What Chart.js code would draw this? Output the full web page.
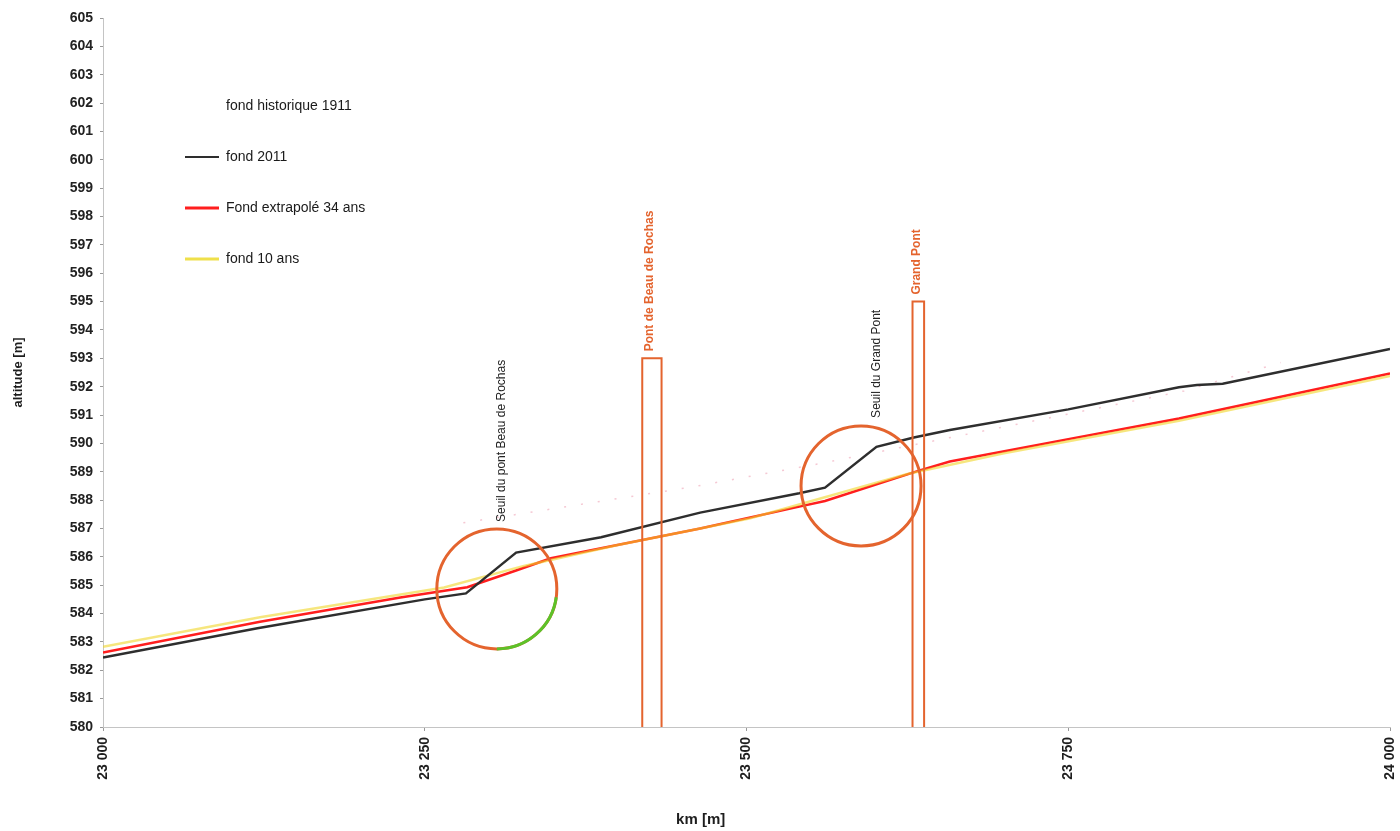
<!DOCTYPE html>
<html>
<head>
<meta charset="utf-8">
<script src="https://cdn.jsdelivr.net/npm/chart.js@4.4.1/dist/chart.umd.min.js"></script>
<style>
  html, body { margin: 0; padding: 0; background: #ffffff; }
  #wrap { width: 1400px; height: 831px; }
</style>
</head>
<body>
<div id="wrap"><canvas id="profil" width="1400" height="831"></canvas></div>
<script>
// Profil en long du fond — altitude [m] selon le km [m]

// Axes
const kmMin = 23000, kmMax = 24000, kmStep = 250;
const altMin = 580, altMax = 605, altStep = 1;

// fond historique 1911 (points épars)
const km1911   = [23280, 23457, 23555, 23840, 23915];
const fond1911 = [587.2, 588.46, 589.27, 591.85, 592.85];

// fond 2011
const km2011   = [23000, 23120, 23250, 23282, 23321, 23387, 23464, 23541, 23561, 23601, 23630, 23658, 23750, 23836, 23850, 23870, 24000];
const fond2011 = [582.45, 583.48, 584.5, 584.71, 586.15, 586.69, 587.56, 588.24, 588.44, 589.88, 590.21, 590.47, 591.2, 591.98, 592.06, 592.1, 593.33];

// Fond extrapolé 34 ans
const km34   = [23000, 23122, 23231, 23283, 23321, 23348, 23387, 23464, 23541, 23561, 23634, 23658, 23750, 23836, 24000];
const fond34 = [582.63, 583.71, 584.57, 584.93, 585.52, 585.95, 586.30, 587.0, 587.77, 587.97, 589.04, 589.36, 590.15, 590.88, 592.47];

// fond 10 ans
const km10   = [23000, 23122, 23265, 23327, 23400, 23464, 23503, 23625, 23700, 23836, 24000];
const fond10 = [582.83, 583.87, 584.92, 585.68, 586.42, 587.0, 587.36, 588.92, 589.65, 590.8, 592.38];

// Ponts (culées gauche / droite, cote du tablier)
const pontNoms     = ['Pont de Beau de Rochas', 'Grand Pont'];
const pontKmGauche = [23419, 23629];
const pontKmDroite = [23434, 23638];
const pontCote     = [593, 595];

// Seuils (cercles) et leurs libellés
const seuilNoms     = ['Seuil du pont Beau de Rochas', 'Seuil du Grand Pont'];
const seuilKm       = [23306, 23589];
const seuilAlt      = [584.87, 588.5];
const seuilLabelKm  = [23310, 23601];
const seuilLabelAlt = [587.23, 590.9];

const toXY = (xs, ys) => xs.map((x, i) => ({ x: x, y: ys[i] }));
const fmtKm = v => String(v).replace(/\B(?=(\d{3})+(?!\d))/g, ' ');

const ORANGE = '#e4642e';
const FONT = "'Liberation Sans', Arial, Helvetica, sans-serif";
Chart.defaults.font.family = FONT;
Chart.defaults.color = '#1e1e1e';

const datasets = [
  {
    label: 'fond historique 1911',
    data: toXY(km1911, fond1911),
    borderColor: 'rgba(226,96,130,0.35)',
    borderWidth: 1.5,
    borderDash: [2, 15],
    pointRadius: 0,
    pointBorderColor: 'rgba(0,0,0,0)',
    pointBorderWidth: 2,
    order: 6
  },
  {
    label: 'fond 2011',
    data: toXY(km2011, fond2011),
    borderColor: '#2e2e2e',
    borderWidth: 2.5,
    pointRadius: 0,
    pointBorderWidth: 2,
    order: 2
  },
  {
    label: 'Fond extrapolé 34 ans',
    data: toXY(km34, fond34),
    borderColor: '#ff1e1e',
    borderWidth: 2.5,
    pointRadius: 0,
    pointBorderWidth: 3,
    order: 4
  },
  {
    label: 'fond 10 ans',
    data: toXY(km10, fond10),
    borderColor: 'rgba(240,214,40,0.6)',
    borderWidth: 2.5,
    pointRadius: 0,
    pointBorderColor: '#efe04a',
    pointBorderWidth: 3,
    order: 3
  }
];

// Ponts : montant gauche, tablier, montant droit
pontNoms.forEach((nom, i) => {
  datasets.push({
    label: nom,
    data: [
      { x: pontKmGauche[i], y: altMin },
      { x: pontKmGauche[i], y: pontCote[i] },
      { x: pontKmDroite[i], y: pontCote[i] },
      { x: pontKmDroite[i], y: altMin }
    ],
    borderColor: ORANGE,
    borderWidth: 2,
    pointRadius: 0,
    order: 1
  });
});

// Seuils : cercles
datasets.push({
  label: 'Seuils',
  data: toXY(seuilKm, seuilAlt),
  showLine: false,
  pointRadius: 60,
  pointHoverRadius: 60,
  pointBorderWidth: 3,
  pointBorderColor: ORANGE,
  pointBackgroundColor: 'rgba(0,0,0,0)',
  order: 0
});
const SEUIL_INDEX = datasets.length - 1;

// Légende placée dans la zone de tracé, décalée vers l'intérieur
const legendOffset = {
  id: 'legendOffset',
  afterLayout(chart) {
    const lg = chart.legend;
    if (lg) { lg.left += 45; lg.top += 62; }
  }
};

// Libellés verticaux des ponts et des seuils, arc vert du premier seuil
const annotations = {
  id: 'annotations',
  afterDatasetsDraw(chart) {
    const { ctx, scales: { x, y } } = chart;
    const vtext = (txt, px, py, font, color) => {
      ctx.save();
      ctx.translate(px, py);
      ctx.rotate(-Math.PI / 2);
      ctx.font = font;
      ctx.fillStyle = color;
      ctx.textAlign = 'left';
      ctx.textBaseline = 'middle';
      ctx.fillText(txt, 0, 0);
      ctx.restore();
    };
    pontNoms.forEach((nom, i) => {
      const cx = (x.getPixelForValue(pontKmGauche[i]) + x.getPixelForValue(pontKmDroite[i])) / 2 - 2;
      const top = y.getPixelForValue(pontCote[i]);
      vtext(nom, cx, top - 7, 'bold 12px ' + FONT, ORANGE);
    });
    seuilNoms.forEach((nom, i) => {
      vtext(nom, x.getPixelForValue(seuilLabelKm[i]), y.getPixelForValue(seuilLabelAlt[i]),
            '12px ' + FONT, '#222');
    });
    const pt = chart.getDatasetMeta(SEUIL_INDEX).data[0];
    if (pt) {
      ctx.save();
      ctx.beginPath();
      ctx.arc(pt.x, pt.y, 60, 8 * Math.PI / 180, 90 * Math.PI / 180);
      ctx.strokeStyle = '#5cc229';
      ctx.lineWidth = 3;
      ctx.stroke();
      ctx.restore();
    }
  }
};

// Titre de l'axe des km, centré un peu à gauche du milieu de l'axe
const kmTitle = 'km [m]' + '\u00a0'.repeat(22);

new Chart(document.getElementById('profil'), {
  type: 'line',
  data: { datasets: datasets },
  plugins: [legendOffset, annotations],
  options: {
    responsive: false,
    animation: false,
    devicePixelRatio: 1,
    layout: { autoPadding: false, padding: { top: 18, right: 10, bottom: 0, left: 0 } },
    elements: { line: { tension: 0 } },
    plugins: {
      tooltip: { enabled: false },
      legend: {
        position: 'chartArea',
        align: 'start',
        labels: {
          filter: (item) => item.datasetIndex < 4,
          sort: (a, b) => a.datasetIndex - b.datasetIndex,
          usePointStyle: true,
          pointStyle: 'line',
          pointStyleWidth: 34,
          boxHeight: 14,
          padding: 37,
          color: '#1a1a1a',
          font: { size: 14 }
        }
      }
    },
    scales: {
      x: {
        type: 'linear',
        min: kmMin,
        max: kmMax,
        afterFit: (s) => { s.height = 104; s.paddingLeft = 0; s.paddingRight = 0; },
        afterBuildTicks: (s) => {
          const t = [];
          for (let v = kmMin; v <= kmMax; v += kmStep) t.push({ value: v });
          s.ticks = t;
        },
        ticks: {
          minRotation: 90,
          maxRotation: 90,
          padding: 6,
          color: '#1e1e1e',
          font: { size: 14, weight: 'bold' },
          callback: (v) => fmtKm(v)
        },
        grid: { drawOnChartArea: false, tickLength: 4, color: '#9a9a9a' },
        border: { color: '#c4c4c4', dash: [3, 3], width: 1 },
        title: {
          display: true,
          text: kmTitle,
          color: '#1e1e1e',
          font: { size: 15, weight: 'bold' },
          padding: { top: 0, bottom: 2 }
        }
      },
      y: {
        min: altMin,
        max: altMax,
        afterFit: (s) => { s.width = 103; },
        ticks: {
          stepSize: altStep,
          padding: 7,
          color: '#222',
          font: { size: 14, weight: 'bold' }
        },
        grid: { drawOnChartArea: false, tickLength: 3, color: '#9a9a9a' },
        border: { color: '#c4c4c4', dash: [3, 3], width: 1 },
        title: {
          display: true,
          text: 'altitude [m]',
          color: '#1e1e1e',
          font: { size: 13, weight: 'bold' },
          padding: { top: 11, bottom: 0 }
        }
      }
    }
  }
});
</script>
</body>
</html>
